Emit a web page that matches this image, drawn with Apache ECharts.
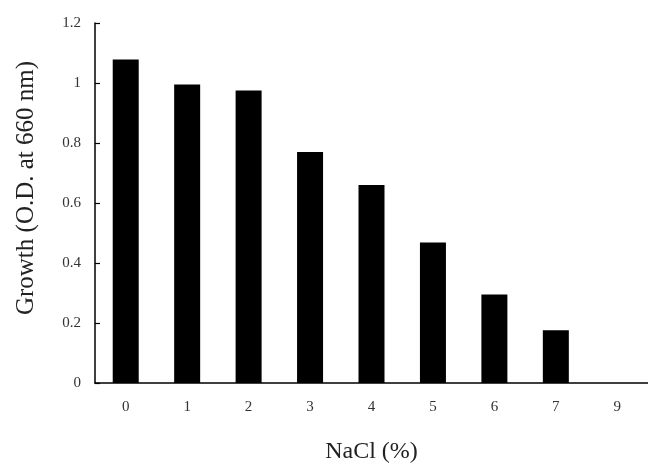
<!DOCTYPE html>
<html>
<head>
<meta charset="utf-8">
<script src="https://cdn.jsdelivr.net/npm/echarts@6/dist/echarts.min.js"></script>
<style>html,body{margin:0;padding:0;background:#fff}#c{width:648px;height:469px}</style>
</head>
<body>
<div id="c"></div>
<script>
var categories = ['0', '1', '2', '3', '4', '5', '6', '7', '9'];
var growth = [1.078, 0.995, 0.975, 0.77, 0.66, 0.468, 0.295, 0.176, 0];
var yTicks = { min: 0, max: 1.2, interval: 0.2 };
var xTitle = 'NaCl (%)';
var yTitle = 'Growth (O.D. at 660 nm)';

var chart = echarts.init(document.getElementById('c'), null, { renderer: 'canvas' });
var serif = 'Liberation Serif';
chart.setOption({
  animation: false,
  backgroundColor: '#fff',
  grid: { left: 95, top: 23, width: 555, bottom: 86 },
  xAxis: {
    type: 'category',
    data: categories,
    name: xTitle,
    nameLocation: 'middle',
    nameGap: 57,
    nameTextStyle: { fontFamily: serif, fontSize: 24, color: '#222' },
    axisLine: { lineStyle: { color: '#000', width: 1.5 } },
    axisTick: { inside: true, length: 5, lineStyle: { color: '#000', width: 1.2 } },
    axisLabel: { fontFamily: serif, fontSize: 15, color: '#333', margin: 17 }
  },
  yAxis: {
    type: 'value',
    min: yTicks.min, max: yTicks.max, interval: yTicks.interval,
    name: yTitle,
    nameLocation: 'middle',
    nameGap: 56,
    nameTextStyle: { fontFamily: serif, fontSize: 25, color: '#222', padding: [0, 0, 0, 30] },
    axisLine: { show: true, lineStyle: { color: '#000', width: 1.5 } },
    axisTick: { show: true, inside: true, length: 5, lineStyle: { color: '#000', width: 1.2 } },
    splitLine: { show: false },
    axisLabel: { fontFamily: serif, fontSize: 15, color: '#333', margin: 14,
      formatter: function (v) { return String(Math.round(v * 10) / 10); } }
  },
  series: [{
    type: 'bar',
    data: growth,
    barWidth: 26,
    itemStyle: { color: '#000' }
  }]
});
</script>
</body>
</html>
